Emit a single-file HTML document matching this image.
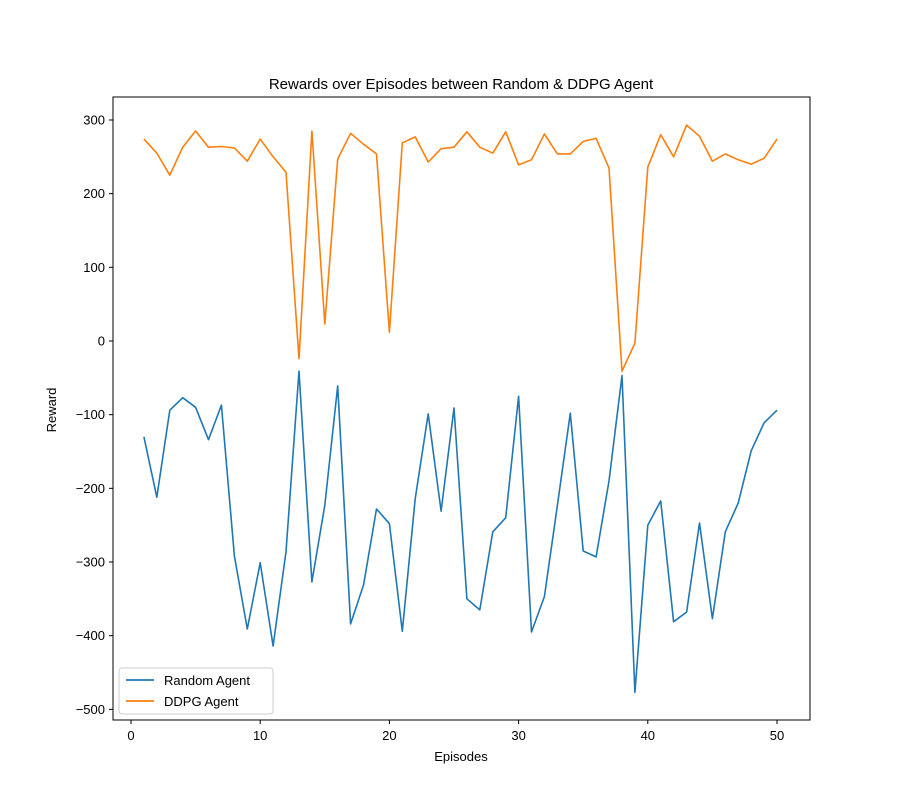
<!DOCTYPE html>
<html><head><meta charset="utf-8"><style>
body{margin:0;background:#fff;}
svg{display:block;font-family:"Liberation Sans","DejaVu Sans",sans-serif;}
</style></head><body>
<svg id="chart" width="900" height="810">
<rect x="0" y="0" width="900" height="810" fill="#fff"/>
<text x="461" y="89" font-size="15" text-anchor="middle">Rewards over Episodes between Random &amp; DDPG Agent</text>
<text x="461" y="761" font-size="13" text-anchor="middle">Episodes</text>
<text x="56" y="410" font-size="13" text-anchor="middle" transform="rotate(-90 56 410)">Reward</text>
<g id="ticks"></g>
<g id="series"></g>
<rect x="113" y="97" width="697" height="623" fill="none" stroke="#000" stroke-width="1"/>
<g>
<rect x="119" y="668" width="154" height="46" rx="3" fill="#fff" stroke="#ccc"/>
<line x1="126" y1="680" x2="154" y2="680" stroke="#1f77b4" stroke-width="1.8"/>
<text x="164" y="685" font-size="13">Random Agent</text>
<line x1="126" y1="701" x2="154" y2="701" stroke="#ff7f0e" stroke-width="1.8"/>
<text x="164" y="706" font-size="13">DDPG Agent</text>
</g>
</svg>
<script>
const episodes = Array.from({length:50},(_, i)=>i+1);
const randomRewards = [-130,-212,-94,-77,-90,-134,-87,-292,-391,-301,-414,-286,-41,-327,-223,-61,-384,-331,-228,-248,-394,-214,-99,-231,-91,-350,-365,-259,-240,-75,-395,-347,-223,-98,-285,-293,-190,-47,-477,-250,-217,-381,-368,-247,-377,-259,-220,-149,-111,-94];
const ddpgRewards = [274,255,225,263,285,263,264,262,244,274,250,229,-24,285,23,247,282,267,254,12,269,277,243,261,263,284,263,255,284,239,246,281,254,254,271,275,235,-41,-3,236,280,250,293,278,244,254,246,240,248,274];
const xTicks = [0,10,20,30,40,50];
const yTicks = [300,200,100,0,-100,-200,-300,-400,-500];
const NS="http://www.w3.org/2000/svg";
function xs(v){return 131+v*12.92;}
function ys(v){return 341-v*0.7367;}
const tg=document.getElementById('ticks');
function mk(tag,attrs,parent){const e=document.createElementNS(NS,tag);for(const k in attrs)e.setAttribute(k,attrs[k]);parent.appendChild(e);return e;}
xTicks.forEach(t=>{
  const l=mk('line',{x1:xs(t),x2:xs(t),y1:720,y2:724,stroke:'#000'},tg);
  
  
  const tx=mk('text',{x:xs(t),y:740,'font-size':13,'text-anchor':'middle'},tg);
  tx.textContent=t;
  
  
});
yTicks.forEach(t=>{
  const l=mk('line',{x1:109,x2:113,y1:ys(t),y2:ys(t),stroke:'#000'},tg);
  
  
  const tx=mk('text',{x:105,y:ys(t)+4.5,'font-size':13,'text-anchor':'end'},tg);
  tx.textContent=t<0?'\u2212'+(-t):t;
  
  
});
const sg=document.getElementById('series');
function line(vals,color,name){
  const d=vals.map((v,i)=>(i?'L':'M')+xs(episodes[i]).toFixed(1)+','+ys(v).toFixed(1)).join('');
  const p=mk('path',{d:d,fill:'none',stroke:color,'stroke-width':1.6,'stroke-linejoin':'round'},sg);
  
  
}
line(randomRewards,'#1f77b4','random-agent-line');
line(ddpgRewards,'#ff7f0e','ddpg-agent-line');
</script>
</body></html>
